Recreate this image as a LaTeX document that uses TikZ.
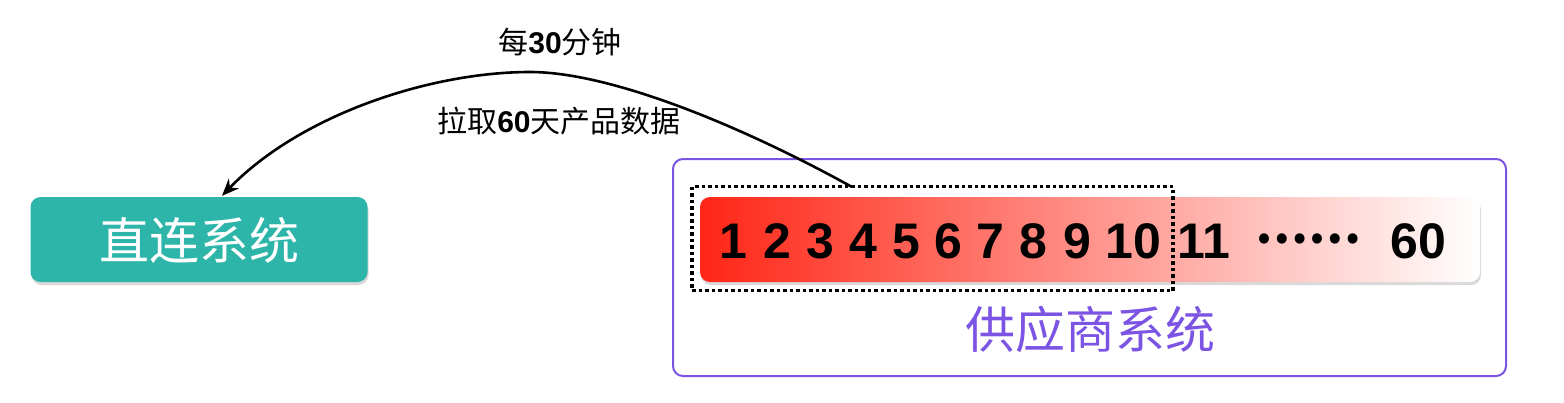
\documentclass[tikz,border=0pt]{standalone}
\usepackage{fontspec}
\setmainfont{Liberation Sans}
\newfontfamily\cjk{Noto Sans CJK SC}
\usetikzlibrary{shadows,arrows.meta}
\definecolor{teal1}{RGB}{44,181,168}
\definecolor{purp}{RGB}{124,84,228}
\definecolor{red1}{RGB}{255,38,22}
\tikzset{
  numtxt/.style={anchor=base,inner sep=0pt,font=\fontsize{50}{52}\selectfont\bfseries},
  lbl/.style={inner sep=0pt,font=\fontsize{30}{32}\selectfont},
  sysbox/.style={rectangle,rounded corners=10pt,inner sep=0pt},
  pull/.style={line width=2.6pt,-{Stealth[length=17pt,width=14pt]}}
}
\begin{document}
\begin{tikzpicture}[x=1pt,y=-1pt]
\useasboundingbox (0,0) rectangle (1564,402);
% teal box
\node[sysbox,fill=teal1,minimum width=337pt,minimum height=85pt,
  drop shadow={shadow xshift=1pt,shadow yshift=-3pt,opacity=0.3}] (direct) at (199,239.5) {};
\node[inner sep=0pt,text=white,font=\fontsize{50}{52}\selectfont\cjk] (directtxt) at (199,240) {直连系统};
% purple box
\node[sysbox,draw=purp,line width=2pt,minimum width=833pt,minimum height=217pt] (supplier) at (1089.5,267.5) {};
\node[inner sep=0pt,text=purp,font=\fontsize{50}{52}\selectfont\cjk] (suppliertxt) at (1090,329) {供应商系统};
% gradient bar
\node[sysbox,left color=red1,right color=white,minimum width=780pt,minimum height=85pt,
  drop shadow={shadow xshift=1pt,shadow yshift=-3pt,opacity=0.3}] (bar) at (1090,239.5) {};
% numbers
\node[numtxt] (n1) at (733,258) {1};
\node[numtxt] (n2) at (777,258) {2};
\node[numtxt] (n3) at (820,258) {3};
\node[numtxt] (n4) at (863,258) {4};
\node[numtxt] (n5) at (906,258) {5};
\node[numtxt] (n6) at (948,258) {6};
\node[numtxt] (n7) at (990,258) {7};
\node[numtxt] (n8) at (1033,258) {8};
\node[numtxt] (n9) at (1077,258) {9};
\node[numtxt] (n10) at (1133,258) {10};
\node[numtxt] (n11) at (1204,258) {11};
\node[inner sep=0pt,font=\fontsize{47}{50}\selectfont\cjk\bfseries] (dots) at (1308,239) {……};
\node[numtxt] (n60) at (1418,258) {60};
% dotted window
\node[rectangle,draw=black,line width=3.5pt,dash pattern=on 3.5pt off 3pt,
  minimum width=481pt,minimum height=104pt,inner sep=0pt] (window) at (932.5,238.5) {};
% labels
\node[lbl] (every) at (560,42) {{\cjk 每}\textbf{30}{\cjk 分钟}};
\node[lbl] (pulltxt) at (559,121) {{\cjk 拉取}\textbf{60}{\cjk 天产品数据}};
% arrow
\coordinate (s) at (852,187);
\coordinate (top) at (530,72);
\coordinate (e) at ([xshift=23pt,yshift=1pt]direct.north);
\draw[pull] (s) .. controls (740,125) and (610,72) .. (top)
  .. controls (430,72) and (300,115) .. (e);
\end{tikzpicture}
\end{document}
